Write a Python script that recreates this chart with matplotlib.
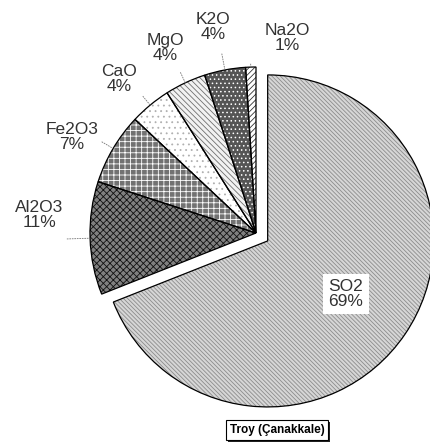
import numpy as np
import matplotlib
matplotlib.use("Agg")
import matplotlib.pyplot as plt
from matplotlib.patches import Rectangle

plt.rcParams['font.family'] = ['Liberation Sans', 'DejaVu Sans']
plt.rcParams['hatch.linewidth'] = 0.6

# oxide composition, Troy (Canakkale)
oxides = ['SO2', 'Al2O3', 'Fe2O3', 'CaO', 'MgO', 'K2O', 'Na2O']
percent = [69, 11, 7, 4, 4, 4, 1]
title = 'Troy (Çanakkale)'

# grey fills and hatch patterns per slice
faces = ['#d6d6d6', '#808080', '#727272', '#ffffff', '#f2f2f2', '#555555', '#ffffff']
hatch_cols = ['#8c8c8c', '#111111', '#ffffff', '#b0b0b0', '#707070', '#ffffff', '#333333']
hatches = ['\\\\\\\\\\\\\\\\', 'xxxxx', '+++', '...', '\\\\\\\\\\\\', '....', '//////']

# label placement: (distance in radii, angle nudge in degrees)
lab_pos = [(0.57, 0), (1.31, -6.5), (1.25, 3), (1.24, 2), (1.24, 1), (1.27, 1), (1.19, -11)]

fig = plt.figure(figsize=(4.31, 4.42), dpi=100)
ax = fig.add_axes([0, 0, 1, 1])

cx, cy, r = 256, 442 - 233, 166
explode = [0.085 * r, 0, 0, 0, 0, 0, 0]  # pie offsets in data units

wedges, _ = ax.pie(percent, explode=explode, startangle=90, counterclock=False,
                   center=(cx, cy), radius=r,
                   wedgeprops=dict(linewidth=0))
for w, fc, hc, h in zip(wedges, faces, hatch_cols, hatches):
    w.set_facecolor(fc)
    w.set_edgecolor(hc)
    w.set_hatch(h)

# black outlines on top
outl, _ = ax.pie(percent, explode=explode, startangle=90, counterclock=False,
                 center=(cx, cy), radius=r,
                 wedgeprops=dict(fill=False, edgecolor='black', linewidth=0.9))

for i, w in enumerate(wedges):
    mid = np.deg2rad((w.theta1 + w.theta2) / 2)
    wx, wy = w.center
    d, nudge = lab_pos[i]
    a = mid + np.deg2rad(nudge)
    tx, ty = wx + d * r * np.cos(a), wy + d * r * np.sin(a)
    txt = f'{oxides[i]}\n{percent[i]}%'
    if i == 0:
        ax.text(tx, ty, txt, ha='center', va='center', fontsize=12.5,
                color='#333333', linespacing=1.0,
                bbox=dict(boxstyle='square,pad=0.3', fc='white', ec='none'))
    else:
        ax.text(tx, ty, txt, ha='center', va='center', fontsize=12.5,
                color='#333333', linespacing=1.0)
        p1 = (wx + 1.0 * r * np.cos(mid), wy + 1.0 * r * np.sin(mid))
        p0 = (wx + (d - 0.17) * r * np.cos(mid), wy + (d - 0.17) * r * np.sin(mid))
        ax.plot([p0[0], p1[0]], [p0[1], p1[1]], color='#777777', lw=0.6, ls=(0, (2, 1)))

ax.set_xlim(0, 431)
ax.set_ylim(0, 442)
ax.set_aspect('auto')
ax.axis('off')

# title box with drop shadow
t = ax.text(277, 442 - 430, title, ha='center', va='center', fontsize=8.5,
            fontweight='bold', color='black', zorder=5,
            bbox=dict(boxstyle='square,pad=0.3', fc='white', ec='black', lw=0.8))
fig.canvas.draw()
bb = t.get_bbox_patch().get_window_extent().transformed(ax.transData.inverted())
ax.add_patch(Rectangle((bb.x0 + 2, bb.y0 - 2), bb.width, bb.height,
                       fc='#222222', ec='none', zorder=4))

fig.savefig('out.png', dpi=100)
